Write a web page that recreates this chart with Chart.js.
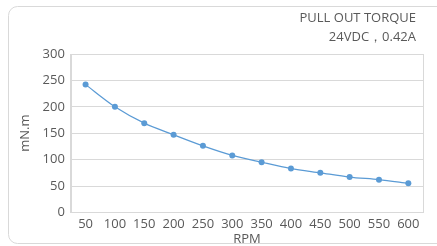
<!DOCTYPE html>
<html>
<head>
<meta charset="utf-8">
<script src="https://cdn.jsdelivr.net/npm/chart.js@4/dist/chart.umd.min.js"></script>
<style>
    html, body { margin: 0; padding: 0; background: #fff; }
    #wrap { width: 437px; height: 246px; }
</style>
</head>
<body>
<div id="wrap"><canvas id="chartTorque" width="437" height="246"></canvas></div>
<script>
const rpmLabels = ['50', '100', '150', '200', '250', '300', '350', '400', '450', '500', '550', '600'];
const torqueValues = [242, 200, 169, 147, 126, 108, 95, 83, 75, 67, 62, 55];
const titleLines = ['PULL OUT TORQUE', '24VDC\uFF0C0.42A'];
const yTitle = 'mN.m';
const xTitle = 'RPM';

const FONT = "'Open Sans', 'Noto Sans', sans-serif";
const TEXT_COLOR = '#595959';
const GRID_COLOR = '#d9d9d9';

// outer rounded frame, plot border and the top right caption
const framePlugin = {
    id: 'frame',
    beforeDraw(chart) {
        const ctx = chart.ctx;
        ctx.save();
        ctx.strokeStyle = '#d9d9d9';
        ctx.lineWidth = 1;
        ctx.beginPath();
        ctx.roundRect(8.5, 6.5, 460, 237, 9);
        ctx.stroke();
        ctx.restore();
    },
    afterDraw(chart) {
        const ctx = chart.ctx;
        const area = chart.chartArea;
        ctx.save();
        ctx.strokeStyle = GRID_COLOR;
        ctx.lineWidth = 1;
        ctx.strokeRect(Math.round(area.left) + 0.5, Math.round(area.top) + 0.5,
            Math.round(area.right - area.left), Math.round(area.bottom - area.top));
        ctx.fillStyle = TEXT_COLOR;
        ctx.font = '13px ' + FONT;
        ctx.textAlign = 'right';
        ctx.textBaseline = 'middle';
        ctx.fillText(titleLines[0], 416, 18);
        ctx.fillText(titleLines[1], 416, 37);
        ctx.restore();
    }
};

new Chart(document.getElementById('chartTorque'), {
    type: 'line',
    data: {
        labels: rpmLabels,
        datasets: [{
            data: torqueValues,
            borderColor: '#5b9bd5',
            backgroundColor: '#5b9bd5',
            borderWidth: 1.25,
            tension: 0.3,
            pointRadius: 3,
            pointHoverRadius: 3,
            pointBorderWidth: 0
        }]
    },
    options: {
        responsive: false,
        animation: false,
        layout: {
            padding: { top: 54, right: 14, left: 17, bottom: 0 }
        },
        plugins: {
            legend: { display: false },
            tooltip: { enabled: false }
        },
        scales: {
            x: {
                offset: true,
                grid: { display: false, drawTicks: false },
                border: { color: GRID_COLOR },
                ticks: {
                    color: TEXT_COLOR,
                    font: { family: FONT, size: 13 },
                    padding: 4,
                    maxRotation: 0,
                    autoSkip: false
                },
                title: {
                    display: true,
                    text: xTitle,
                    color: TEXT_COLOR,
                    font: { family: FONT, size: 13, lineHeight: 1 },
                    padding: { top: -3, bottom: 0 }
                }
            },
            y: {
                min: 0,
                max: 300,
                grid: { color: GRID_COLOR, drawTicks: false },
                border: { color: GRID_COLOR },
                ticks: {
                    stepSize: 50,
                    color: TEXT_COLOR,
                    font: { family: FONT, size: 13 },
                    padding: 6
                },
                title: {
                    display: true,
                    text: yTitle,
                    color: TEXT_COLOR,
                    font: { family: FONT, size: 13 },
                    padding: { top: 0, bottom: 4 }
                }
            }
        }
    },
    plugins: [framePlugin]
});
</script>
</body>
</html>
